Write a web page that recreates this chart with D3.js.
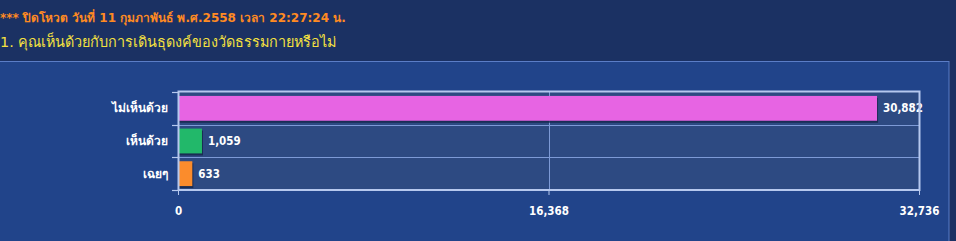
<!DOCTYPE html>
<html><head><meta charset="utf-8">
<script src="https://cdn.jsdelivr.net/npm/d3@7"></script>
<style>
html,body{margin:0;padding:0;background:#1b3163;overflow:hidden;}
svg{display:block;font-family:Tahoma,"DejaVu Sans","Noto Sans",sans-serif;}
</style></head><body>
<svg id="c" width="956" height="241"></svg>
<script>
const titleLine1 = "*** ปิดโหวต วันที่ 11 กุมภาพันธ์ พ.ศ.2558 เวลา 22:27:24 น.";
const titleLine2 = "1. คุณเห็นด้วยกับการเดินธุดงค์ของวัดธรรมกายหรือไม่";
const categories = ["ไม่เห็นด้วย", "เห็นด้วย", "เฉยๆ"];
const values = [30882, 1059, 633];
const barColors = ["#e764e3", "#22b86a", "#fb8c2c"];
const tickValues = [0, 16368, 32736];

const numFont = '"DejaVu Sans Condensed","DejaVu Sans",sans-serif';
const svg = d3.select("#c");
const W = 956, H = 241;
svg.append("rect").attr("width", W).attr("height", H).attr("fill", "#1b3163");
// panel
svg.append("rect").attr("x", -2).attr("y", 61.5).attr("width", 951).attr("height", 200)
  .attr("fill", "#21448a").attr("stroke", "#5b7dc6").attr("stroke-width", 1);

svg.append("text").attr("x", 0).attr("y", 22).attr("fill", "#ff8a22")
  .attr("font-size", 12).attr("font-weight", "bold").text(titleLine1);
svg.append("text").attr("x", 0).attr("y", 47).attr("fill", "#f4e040")
  .attr("font-size", 14.4).text(titleLine2);

const m = {left: 178, right: 919, top: 92, bottom: 190};
const x = d3.scaleLinear().domain([0, tickValues[2]]).range([m.left, m.right]);
const y = d3.scaleBand().domain(categories).range([m.top, m.bottom]).paddingInner(0.24).paddingOuter(0.12);
const yb = d3.scaleBand().domain(categories).range([m.top, m.bottom]);

const g = svg.append("g");
g.append("rect").attr("x", m.left).attr("y", m.top).attr("width", m.right - m.left).attr("height", m.bottom - m.top)
  .attr("fill", "#2d4a82");
// horizontal band separators
g.selectAll("line.sep").data(categories.slice(1)).join("line")
  .attr("x1", m.left).attr("x2", m.right)
  .attr("y1", d => Math.round(yb(d)) + 0.5).attr("y2", d => Math.round(yb(d)) + 0.5)
  .attr("stroke", "#7d9ad6").attr("stroke-width", 1);
// vertical grid
g.selectAll("line.vg").data(tickValues.slice(1, 2)).join("line")
  .attr("x1", d => Math.round(x(d)) + 0.5).attr("x2", d => Math.round(x(d)) + 0.5)
  .attr("y1", m.top).attr("y2", m.bottom)
  .attr("stroke", "#7d9ad6").attr("stroke-width", 1);

// bars with shadow
const bars = g.selectAll("g.bar").data(categories).join("g");
bars.append("rect")
  .attr("x", m.left + 1).attr("y", d => y(d) + 2)
  .attr("width", (d, i) => x(values[i]) - m.left).attr("height", y.bandwidth())
  .attr("fill", "#15254a").attr("opacity", 0.8);
bars.append("rect")
  .attr("x", m.left).attr("y", d => y(d))
  .attr("width", (d, i) => x(values[i]) - m.left).attr("height", y.bandwidth())
  .attr("fill", (d, i) => barColors[i]);
bars.append("text")
  .attr("x", (d, i) => x(values[i]) + 6).attr("y", d => y(d) + y.bandwidth() / 2)
  .attr("dy", "0.36em").attr("fill", "#ffffff").attr("font-size", 11.5).attr("font-weight", "bold")
  .attr("font-family", numFont)
  .text((d, i) => d3.format(",")(values[i]));

// border
g.append("rect").attr("x", m.left + 0.5).attr("y", m.top - 0.5).attr("width", m.right - m.left).attr("height", m.bottom - m.top + 0.5)
  .attr("fill", "none").attr("stroke", "#b6c8ee").attr("stroke-width", 2);

// y axis
const yAxis = d3.axisLeft(yb).tickSize(0).tickPadding(10);
const ya = svg.append("g").attr("transform", `translate(${m.left},0)`).call(yAxis);
ya.select(".domain").remove();
ya.selectAll("text").attr("fill", "#ffffff").attr("font-size", 12).attr("font-weight", "bold")
  .attr("font-family", 'Tahoma,"DejaVu Sans","Noto Sans",sans-serif');
// y ticks at band edges
svg.selectAll("line.yt").data([m.top, ...categories.slice(1).map(d => Math.round(yb(d))), m.bottom]).join("line")
  .attr("x1", m.left - 6).attr("x2", m.left).attr("y1", d => d + 0.5).attr("y2", d => d + 0.5)
  .attr("stroke", "#b6c8ee").attr("stroke-width", 1.2);

// x axis
const xAxis = d3.axisBottom(x).tickValues(tickValues).tickSize(5).tickPadding(12).tickFormat(d3.format(","));
const xa = svg.append("g").attr("transform", `translate(0,${m.bottom})`).call(xAxis);
xa.select(".domain").remove();
xa.selectAll("line").attr("stroke", "#b6c8ee");
xa.selectAll("text").attr("fill", "#ffffff").attr("font-size", 11.5).attr("font-weight", "bold")
  .attr("font-family", numFont);
</script>
</body></html>
